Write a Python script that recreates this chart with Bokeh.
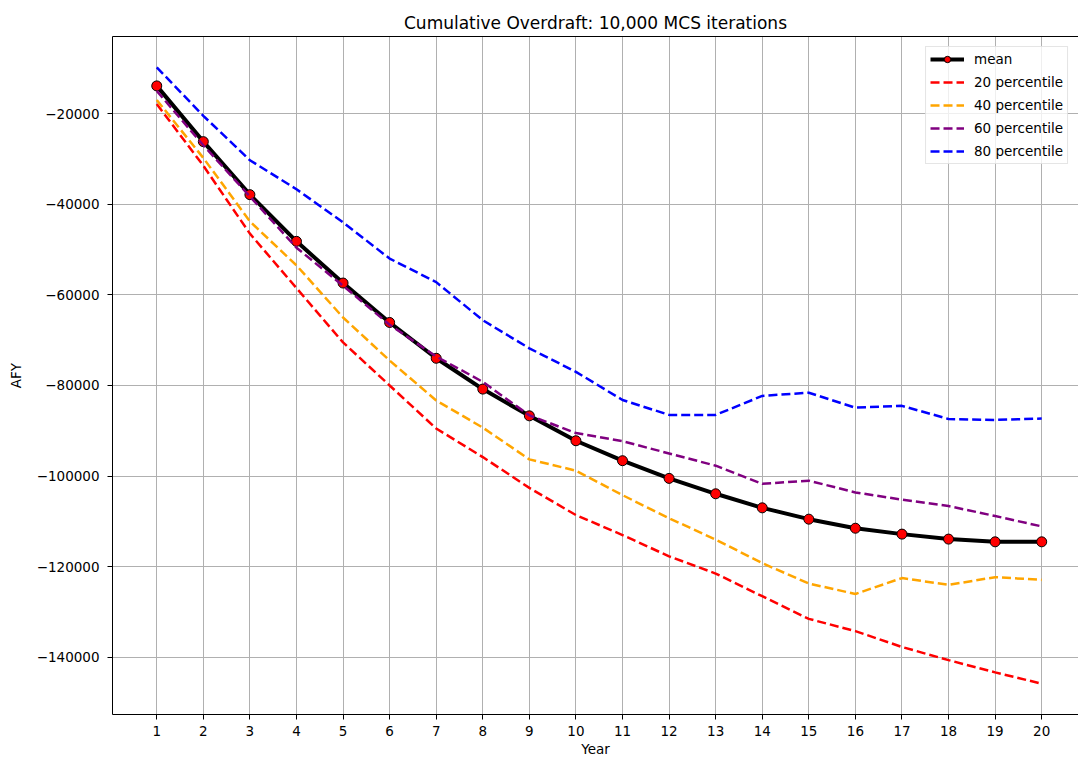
from bokeh.plotting import figure
from bokeh.models import FixedTicker, LinearAxis, Range1d
from bokeh.embed import file_html
from bokeh.resources import INLINE

# ---- data ----
years = list(range(1, 21))
mean_vals = [-13900, -26200, -37900, -48200, -57400, -66100, -74000, -80800, -86700, -92200,
             -96600, -100500, -103900, -107000, -109500, -111500, -112800, -113900, -114500, -114500]
p20_vals = [-17900, -31500, -46500, -58500, -70500, -80000, -89500, -95800, -102600, -108600,
            -113000, -117700, -121500, -126500, -131500, -134200, -137700, -140600, -143300, -145800]
p40_vals = [-17000, -29800, -43800, -53500, -65000, -74500, -83300, -89300, -96300, -98800,
            -104200, -109300, -114000, -119200, -123700, -126000, -122500, -124000, -122300, -122900]
p60_vals = [-15000, -27000, -38300, -49600, -58000, -66600, -73600, -79200, -86600, -90500,
            -92300, -95000, -97700, -101700, -101000, -103600, -105200, -106600, -108800, -111100]
p80_vals = [-9800, -20500, -30300, -36700, -44000, -52000, -57200, -65600, -71800, -77000,
            -83200, -86500, -86500, -82300, -81600, -84900, -84500, -87400, -87600, -87300]

series_labels = ["20 percentile", "40 percentile", "60 percentile", "80 percentile"]
series_colors = ["red", "orange", "purple", "blue"]
series_values = [p20_vals, p40_vals, p60_vals, p80_vals]

y_ticks = [-140000, -120000, -100000, -80000, -60000, -40000, -20000]
y_tick_labels = ["\u2212140000", "\u2212120000", "\u2212100000", "\u221280000",
                 "\u221260000", "\u221240000", "\u221220000"]
x_tick_labels = [str(y) for y in years]

title_text = "Cumulative Overdraft: 10,000 MCS iterations"
FONT = "DejaVu Sans"

p = figure(width=1078, height=759, output_backend="svg", toolbar_location=None,
           x_range=Range1d(0.05, 20.79), y_range=Range1d(-152600, -3000),
           min_border_left=112, min_border_right=0, min_border_top=36, min_border_bottom=44,
           title=title_text)
p.outline_line_color = None
p.background_fill_color = "white"
p.border_fill_color = "white"

p.title.text_font = FONT
p.title.text_font_size = "17px"
p.title.text_font_style = "normal"
p.title.align = "center"
p.title.text_color = "black"
p.title.standoff = 8
p.title.offset = 4

# mean
p.line(years, mean_vals, color="black", line_width=4, legend_label="mean")
p.scatter(years, mean_vals, size=10, fill_color="red", line_color="black", line_width=1,
          legend_label="mean")

for vals, lab, col in zip(series_values, series_labels, series_colors):
    p.line(years, vals, color=col, line_width=2.5, line_dash="9 4", legend_label=lab)

# axes
xax = p.below[0]
yax = p.left[0]
xax.ticker = FixedTicker(ticks=years)
xax.major_label_overrides = {y: s for y, s in zip(years, x_tick_labels)}
yax.ticker = FixedTicker(ticks=y_ticks)
yax.major_label_overrides = {v: s for v, s in zip(y_ticks, y_tick_labels)}
for ax in (xax, yax):
    ax.axis_line_color = "black"
    ax.axis_line_width = 1
    ax.major_tick_line_color = "black"
    ax.major_tick_out = 5
    ax.major_tick_in = 0
    ax.minor_tick_line_color = None
    ax.major_label_text_font = FONT
    ax.major_label_text_font_size = "13.5px"
    ax.major_label_text_color = "black"
    ax.axis_label_text_font = FONT
    ax.axis_label_text_font_size = "13.5px"
    ax.axis_label_text_font_style = "normal"
    ax.axis_label_text_color = "black"
xax.axis_label = "Year"
yax.axis_label = "AFY"
xax.major_label_standoff = 6
xax.axis_label_standoff = 2
yax.major_label_standoff = 8
yax.axis_label_standoff = 10

# top spine (no ticks, no labels)
top_axis = LinearAxis(ticker=FixedTicker(ticks=[]), major_label_text_font_size="0px",
                      major_tick_out=0, major_tick_in=0, minor_tick_out=0, minor_tick_in=0,
                      major_label_standoff=0,
                      axis_line_color="black", axis_line_width=1)
p.add_layout(top_axis, "above")

p.grid.grid_line_color = "#b0b0b0"
p.grid.grid_line_width = 1

lg = p.legend[0]
lg.location = "top_right"
lg.margin = 10
lg.padding = 4
lg.spacing = 7
lg.glyph_width = 34
lg.glyph_height = 16
lg.label_height = 16
lg.label_standoff = 10
lg.label_text_font = FONT
lg.label_text_font_size = "13.5px"
lg.label_text_color = "black"
lg.border_line_color = "#cccccc"
lg.border_line_width = 1
lg.background_fill_color = "white"
lg.background_fill_alpha = 0.8

with open("out.html", "w") as f:
    f.write(file_html(p, INLINE))
